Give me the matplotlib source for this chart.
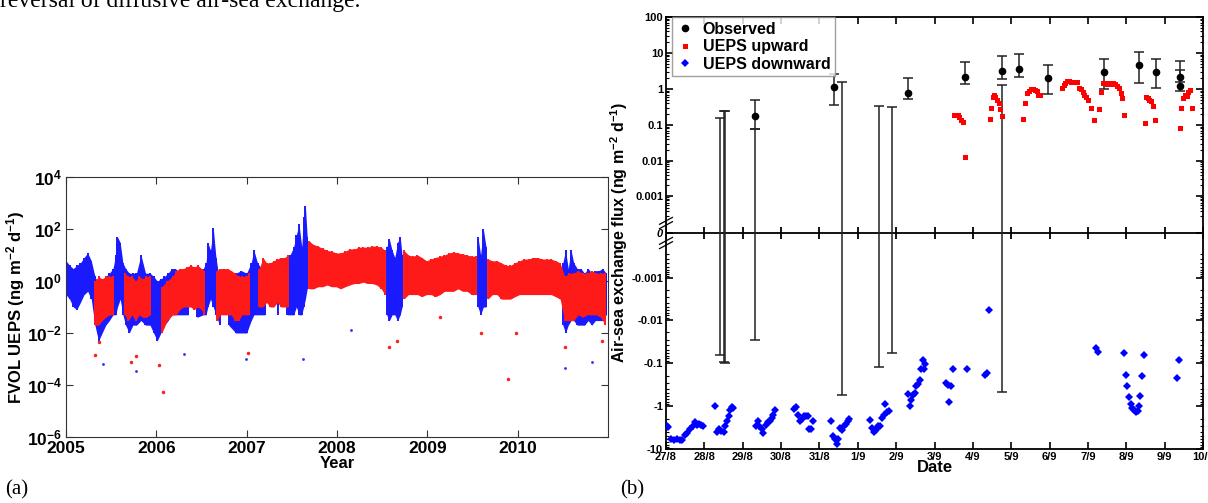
import matplotlib

matplotlib.use("Agg")
import matplotlib.pyplot as plt  # noqa: E402
import matplotlib.ticker as mticker  # noqa: E402
import numpy as np  # noqa: E402

plt.rcParams["font.family"] = ["Liberation Sans", "DejaVu Sans"]
plt.rcParams["font.weight"] = "bold"
plt.rcParams["mathtext.fontset"] = "custom"
plt.rcParams["mathtext.rm"] = "Liberation Sans:bold"
plt.rcParams["mathtext.bf"] = "Liberation Sans:bold"
plt.rcParams["mathtext.it"] = "Liberation Sans:bold:italic"
plt.rcParams["mathtext.default"] = "bf"

# ---------------- panel (a): 2005-2010 FVOL, envelope of dense point cloud
blue_t = [2005.00, 2005.04, 2005.08, 2005.12, 2005.16, 2005.20, 2005.24, 2005.28,
          2005.32, 2005.36, 2005.40, 2005.44, 2005.48, 2005.52, 2005.55, 2005.57,
          2005.60, 2005.63, 2005.66, 2005.70, 2005.74, 2005.78, 2005.83, 2005.88,
          2005.93, 2005.97, 2006.01, 2006.05, 2006.09, 2006.13, 2006.17, 2006.21,
          2006.27, 2006.35, 2006.45, 2006.52, 2006.55, 2006.57, 2006.60, 2006.63,
          2006.66, 2006.70, 2006.80, 2006.88, 2006.94, 2007.00, 2007.05, 2007.08,
          2007.12, 2007.20, 2007.35, 2007.45, 2007.48, 2007.52, 2007.55, 2007.58,
          2007.61, 2007.63, 2007.65, 2007.67, 2008.55, 2008.58, 2008.61, 2008.64,
          2008.67, 2008.70, 2008.72, 2009.56, 2009.59, 2009.62, 2009.65, 2010.50,
          2010.53, 2010.56, 2010.59, 2010.62, 2010.66, 2010.70, 2010.74, 2010.78,
          2010.82, 2010.86, 2010.90, 2010.94, 2010.98]
blue_lo = [0.3, 0.2, 0.1, 0.08, 0.15, 0.3, 0.4, 0.2,
           0.02, 0.005, 0.01, 0.02, 0.03, 0.05, 0.05, 0.1,
           0.2, 0.05, 0.02, 0.01, 0.02, 0.02, 0.03, 0.02,
           0.02, 0.01, 0.005, 0.01, 0.02, 0.03, 0.05, 0.05,
           0.05, 0.05, 0.04, 0.05, 0.05, 0.1, 0.2, 0.1,
           0.05, 0.02, 0.02, 0.01, 0.01, 0.01, 0.03, 0.05,
           0.05, 0.05, 0.05, 0.05, 0.05, 0.05, 0.1, 0.05,
           0.05, 0.1, 0.2, 0.5, 0.05, 0.03, 0.05, 0.05,
           0.03, 0.05, 0.1, 0.1, 0.05, 0.1, 0.1, 0.02,
           0.01, 0.02, 0.03, 0.03, 0.02, 0.02, 0.02, 0.03,
           0.02, 0.03, 0.03, 0.03, 0.05]
blue_hi = [6, 4, 3, 4, 5, 8, 12, 6,
           1.5, 0.8, 1, 1.5, 2, 3, 10, 50,
           30, 5, 3, 2, 2, 2, 10, 2,
           2, 1.5, 1, 1.2, 1.5, 2, 3, 3,
           2, 2, 2.5, 3, 5, 30, 15, 110,
           8, 1, 1.5, 2, 2.5, 2, 5, 15,
           5, 2, 2, 5, 10, 20, 60, 150,
           20, 300, 800, 50, 20, 40, 15, 8,
           30, 50, 10, 50, 10, 100, 20, 5,
           15, 3, 16, 5, 3, 3, 2, 3,
           2, 2.5, 2.5, 3, 2]

red_t = [2005.32, 2005.36, 2005.40, 2005.44, 2005.48, 2005.52, 2005.65, 2005.69,
         2005.73, 2005.77, 2005.81, 2005.85, 2005.89, 2005.93, 2006.06, 2006.12,
         2006.18, 2006.22, 2006.26, 2006.30, 2006.34, 2006.38, 2006.42, 2006.46,
         2006.50, 2006.53, 2006.67, 2006.71, 2006.75, 2006.79, 2006.83, 2006.87,
         2006.91, 2006.95, 2006.99, 2007.03, 2007.14, 2007.18, 2007.22, 2007.26,
         2007.30, 2007.34, 2007.38, 2007.42, 2007.46, 2007.69, 2007.74, 2007.79,
         2007.84, 2007.89, 2007.94, 2007.99, 2008.04, 2008.09, 2008.14, 2008.19,
         2008.24, 2008.29, 2008.34, 2008.39, 2008.44, 2008.49, 2008.53, 2008.74,
         2008.79, 2008.84, 2008.89, 2008.94, 2008.99, 2009.04, 2009.09, 2009.14,
         2009.19, 2009.24, 2009.29, 2009.34, 2009.39, 2009.44, 2009.49, 2009.54,
         2009.67, 2009.72, 2009.77, 2009.82, 2009.87, 2009.92, 2009.97, 2010.02,
         2010.07, 2010.12, 2010.17, 2010.22, 2010.27, 2010.32, 2010.37, 2010.42,
         2010.47, 2010.52, 2010.57, 2010.62, 2010.67, 2010.72, 2010.77, 2010.82,
         2010.87, 2010.92, 2010.97]
red_lo = [0.02, 0.02, 0.03, 0.04, 0.05, 0.05, 0.05, 0.03,
          0.05, 0.03, 0.05, 0.04, 0.04, 0.05, 0.01, 0.03,
          0.05, 0.05, 0.08, 0.1, 0.1, 0.1, 0.08, 0.1,
          0.08, 0.05, 0.03, 0.05, 0.05, 0.05, 0.05, 0.03,
          0.03, 0.05, 0.05, 0.05, 0.1, 0.1, 0.15, 0.1,
          0.1, 0.15, 0.1, 0.1, 0.1, 0.5, 0.5, 0.6,
          0.6, 0.7, 0.6, 0.6, 0.5, 0.6, 0.7, 0.8,
          0.8, 0.9, 0.8, 0.8, 0.7, 0.5, 0.3, 0.2,
          0.3, 0.3, 0.3, 0.25, 0.3, 0.3, 0.25, 0.3,
          0.4, 0.4, 0.4, 0.5, 0.4, 0.4, 0.3, 0.3,
          0.2, 0.3, 0.3, 0.2, 0.2, 0.2, 0.25, 0.3,
          0.3, 0.3, 0.3, 0.3, 0.3, 0.3, 0.3, 0.25,
          0.2, 0.03, 0.03, 0.03, 0.05, 0.04, 0.05, 0.05,
          0.05, 0.04, 0.02]
red_hi = [1, 1.5, 1.2, 1.5, 1.5, 1.5, 2, 1.5,
          1.5, 1, 1.5, 1.2, 1.5, 1.5, 0.6, 1,
          1.5, 2.5, 3, 3, 3.5, 4, 3.5, 4,
          3, 2.5, 2.5, 3, 3, 3, 2.5, 2,
          1.5, 1.5, 1.5, 2, 3, 8, 5, 5,
          6, 7, 8, 8, 10, 35, 25, 22,
          18, 15, 14, 12, 12, 14, 17, 17,
          20, 20, 20, 22, 22, 20, 15, 15,
          10, 9, 10, 8, 6, 7, 8, 9,
          10, 12, 13, 12, 11, 10, 9, 9,
          7, 6, 6, 5, 4, 4, 5, 6,
          7, 7, 8, 8, 7, 7, 7, 6,
          5, 1.5, 2, 2, 2.5, 2, 2, 2.5,
          2, 2, 2]

red_out_t = [2005.32, 2005.37, 2005.72, 2005.78, 2006.03, 2006.07, 2007.01, 2008.58,
             2008.66, 2009.14, 2009.59, 2009.89, 2009.98, 2010.52, 2010.93]
red_out_v = [1.4e-3, 4.6e-3, 8e-4, 1.3e-3, 5.7e-4, 5.5e-5, 1.7e-3, 3e-3,
             5e-3, 4e-2, 1e-2, 1.7e-4, 1e-2, 3e-3, 5e-3]
blue_out_t = [2005.41, 2005.78, 2006.31, 2006.99, 2007.62, 2008.15, 2010.52, 2010.82]
blue_out_v = [6.6e-4, 3.6e-4, 1.5e-3, 1e-3, 1e-3, 1.3e-2, 4.7e-4, 8e-4]

years = [2005, 2006, 2007, 2008, 2009, 2010]

# ---------------- panel (b): 27/8 - 10/9 (x = days since 27/8)
date_labels = ["27/8", "28/8", "29/8", "30/8", "31/8", "1/9", "2/9", "3/9",
               "4/9", "5/9", "6/9", "7/9", "8/9", "9/9", "10/9"]

up_day = [7.52, 7.57, 7.62, 7.65, 7.69, 7.74, 7.79,
          8.44, 8.47, 8.52, 8.55, 8.59, 8.62, 8.67, 8.70, 8.77,
          9.31, 9.36, 9.41, 9.46, 9.51, 9.56, 9.61, 9.66, 9.71, 9.76,
          10.33, 10.38, 10.41, 10.46, 10.51, 10.56, 10.61, 10.66, 10.71, 10.76,
          10.81, 10.86, 10.90, 10.95, 11.00, 11.07, 11.15,
          11.30, 11.35, 11.40, 11.45, 11.50, 11.55, 11.60, 11.65, 11.70, 11.75,
          11.80, 11.85, 11.88, 11.93,
          12.48, 12.52, 12.56, 12.60, 12.64, 12.69, 12.74,
          13.39, 13.42, 13.47, 13.52, 13.57, 13.62, 13.67, 13.72]
up_flux = [0.195, 0.19, 0.19, 0.17, 0.14, 0.12, 0.013,
           0.145, 0.3, 0.6, 0.7, 0.6, 0.5, 0.4, 0.28, 0.18,
           0.145, 0.4, 0.75, 0.9, 1.0, 1.0, 0.95, 0.9, 0.7, 0.7,
           1.1, 1.3, 1.5, 1.7, 1.7, 1.6, 1.6, 1.6, 1.6, 1.1,
           1.0, 0.8, 0.7, 0.6, 0.5, 0.3, 0.14,
           0.28, 0.8, 1.45, 1.45, 1.4, 1.45, 1.4, 1.45, 1.4, 1.25,
           1.05, 0.75, 0.55, 0.19,
           0.11, 0.6, 0.55, 0.5, 0.45, 0.33, 0.14,
           0.08, 0.3, 0.55, 0.7, 0.65, 0.8, 0.95, 0.3]

down_day = [0.02, 0.06, 0.12, 0.21, 0.29, 0.36, 0.43, 0.49, 0.55, 0.62, 0.71, 0.75,
            0.81, 0.86, 0.92, 0.97,
            1.29, 1.33, 1.38, 1.44, 1.51, 1.55, 1.59, 1.63, 1.67, 1.72, 1.74,
            2.34, 2.39, 2.43, 2.50, 2.54, 2.60, 2.66, 2.71, 2.76, 2.79, 2.84,
            3.35, 3.40, 3.45, 3.50, 3.55, 3.60, 3.65, 3.70, 3.74, 3.79, 3.84,
            4.31, 4.36, 4.41, 4.45, 4.49, 4.54, 4.59, 4.64, 4.69, 4.74, 4.78,
            5.33, 5.38, 5.43, 5.48, 5.53, 5.58, 5.63, 5.68, 5.71, 5.76, 5.81,
            6.32, 6.36, 6.40, 6.45, 6.50, 6.53, 6.58, 6.62, 6.65, 6.70, 6.72, 6.76,
            7.30, 7.35, 7.37, 7.42, 7.48, 7.84,
            8.31, 8.36, 8.41,
            11.22, 11.27,
            11.95, 11.99, 12.03, 12.07, 12.12, 12.15, 12.19, 12.25, 12.30, 12.33,
            12.37, 12.40, 12.45,
            13.33, 13.38]
down_flux = [-3.0, -3.1, -6.0, -6.1, -6.0, -6.3, -6.1, -4.8, -4.2, -3.5, -2.9, -2.4,
             -2.75, -2.6, -2.75, -3.0,
             -1.0, -4.0, -3.5, -3.8, -4.0, -3.0, -2.2, -1.7, -1.25, -1.04, -1.1,
             -2.9, -2.3, -3.0, -3.5, -4.2, -2.75, -2.4, -2.2, -1.9, -1.6, -1.25,
             -1.2, -1.05, -1.6, -2.2, -2.0, -1.75, -1.7, -1.75, -3.4, -3.4, -2.3,
             -2.2, -5.1, -6.0, -7.5, -5.8, -3.3, -3.6, -3.0, -2.6, -2.3, -2.0,
             -2.1, -3.3, -4.0, -3.6, -3.0, -2.9, -1.9, -1.6, -0.9, -1.4, -1.3,
             -0.52, -1.0, -0.72, -0.55, -0.5, -0.34, -0.32, -0.25, -0.14, -0.085, -0.14, -0.105,
             -0.3, -0.33, -0.82, -0.35, -0.14, -0.14,
             -0.19, -0.17, -0.006,
             -0.046, -0.058,
             -0.06, -0.19, -0.35, -0.63, -0.93, -1.1, -1.25, -1.4, -1.3, -1.0,
             -0.58, -0.2, -0.065,
             -0.23, -0.085]

obs_day = [1.41, 1.51, 1.53, 2.31, 2.31, 4.39, 4.59, 5.55, 5.88, 6.30, 7.80,
           8.77, 8.77, 9.20, 9.96, 11.43, 12.33, 12.78, 13.41, 13.41]
obs_val = [np.nan, np.nan, np.nan, 0.18, np.nan, 1.17, np.nan, np.nan, np.nan, 0.75, 2.2,
           3.1, np.nan, 3.6, 2.0, 3.0, 4.7, 3.0, 2.15, 1.2]
obs_lo = [-0.065, -0.095, -0.1, 0.077, -0.03, 0.36, -0.57, -0.125, -0.06, 0.53, 1.35,
          1.9, -0.48, 2.15, 0.74, 1.0, 1.5, 1.07, 1.55, 0.87]
obs_hi = [0.16, 0.24, 0.25, 0.48, 0.077, 2.65, 1.6, 0.34, 0.31, 2.0, 5.8,
          8.1, 1.3, 9.6, 4.7, 7.0, 10.8, 6.9, 6.0, 3.4]

pos_ticks = [100, 10, 1, 0.1, 0.01, 0.001]
neg_ticks = [-0.001, -0.01, -0.1, -1, -10]


def fwd(y):
    # broken log axis: log decades above zero, stretched log decades below zero
    y = np.asarray(y, dtype=float)
    s = np.log10(1 + np.abs(y) / 1e-4)
    return np.where(y >= 0, s, -1.2 * s)


def inv(f):
    f = np.asarray(f, dtype=float)
    k = np.where(f >= 0, 1.0, 1.2)
    return np.sign(f) * 1e-4 * (10 ** (np.abs(f) / k) - 1)


def draw_band(ax, t, lo, hi, color, z, gap=0.09):
    """Fill the envelope of the point cloud, broken where samples are far apart."""
    t = np.asarray(t)
    lo = np.asarray(lo)
    hi = np.asarray(hi)
    cuts = np.where(np.diff(t) > gap)[0] + 1
    for idx in np.split(np.arange(len(t)), cuts):
        ax.fill_between(t[idx], lo[idx], hi[idx], color=color, lw=0, zorder=z)
    ax.vlines(t, lo, hi, colors=color, lw=1.4, zorder=z)


fig = plt.figure(figsize=(12.08, 5.03), dpi=100)

# ---------------- (a)
ax1 = fig.add_axes([66 / 1208, 1 - 437 / 503, 542 / 1208, 260 / 503])
ax1.set_yscale("log")
draw_band(ax1, blue_t, blue_lo, blue_hi, "#1a1aff", 2)
draw_band(ax1, red_t, red_lo, red_hi, "#ff1a1a", 3)
ax1.plot(blue_out_t, blue_out_v, ".", color="#3030ff", ms=2, zorder=3)
ax1.plot(red_out_t, red_out_v, ".", color="#ff2020", ms=3, zorder=4)
ax1.set_xlim(2005, 2011)
ax1.set_ylim(1e-6, 1e4)
ax1.set_xticks(years)
ax1.set_xticklabels([str(y) for y in years])
ax1.yaxis.set_major_locator(mticker.FixedLocator([1e-6, 1e-4, 1e-2, 1, 1e2, 1e4]))
ax1.yaxis.set_minor_locator(mticker.NullLocator())
ax1.set_yticklabels(["$10^{-6}$", "$10^{-4}$", "$10^{-2}$", "$10^{0}$", "$10^{2}$", "$10^{4}$"])
ax1.tick_params(direction="in", top=True, right=True, length=5, labelsize=12.5, pad=3,
                color="#333333")
ax1.set_xlabel("Year", fontsize=12, fontweight="bold", labelpad=0)
ax1.set_ylabel("FVOL UEPS (ng m$^{-2}$ d$^{-1}$)", fontsize=12, fontweight="bold", labelpad=0)
for sp in ax1.spines.values():
    sp.set_color("#333333")

# ---------------- (b)
ax2 = fig.add_axes([666 / 1208, 1 - 449 / 503, 537 / 1208, 432 / 503])
ax2.set_yscale("function", functions=(fwd, inv))
ax2.set_ylim(-10, 100)
ax2.set_xlim(0, 14)
days = list(range(len(date_labels)))

ax2.axhline(0, color="black", lw=1.3, zorder=1)
ax2.plot(days, [0] * len(days), "|", color="black", ms=9, mew=1.3, zorder=1)

ax2.errorbar(obs_day, obs_lo, yerr=[[0] * len(obs_lo), np.subtract(obs_hi, obs_lo)],
             fmt="none", ecolor="#222222", elinewidth=1.1, capsize=3.5, capthick=1.1,
             zorder=2)
obs_h, = ax2.plot(obs_day, obs_val, "o", color="black", ms=4.5, zorder=4,
                  label="Observed")
up_h, = ax2.plot(up_day, up_flux, "s", color="#ff0000", ms=3.6, mew=0, zorder=3,
                 label="UEPS upward")
down_h, = ax2.plot(down_day, down_flux, "D", color="#0000ff", ms=4, mew=0, zorder=3,
                   label="UEPS downward")

ax2.set_xticks(days)
ax2.set_xticklabels(date_labels)
ax2.yaxis.set_major_locator(mticker.FixedLocator(pos_ticks + [0] + neg_ticks))
ax2.set_yticklabels([str(t) for t in pos_ticks] + ["0"] + [str(t) for t in neg_ticks])
ax2.get_yticklabels()[len(pos_ticks)].set_style("italic")
minors = []
for dec in [1e-4, 1e-3, 1e-2, 1e-1, 1, 10]:
    for m in range(2, 10):
        if m * dec < 100:
            minors.append(m * dec)
            if m * dec < 10:
                minors.append(-m * dec)
ax2.yaxis.set_minor_locator(mticker.FixedLocator(minors))
ax2.tick_params(which="major", direction="in", top=True, right=True, length=5,
                width=1.2, labelsize=8, pad=2)
ax2.tick_params(which="minor", direction="in", right=True, length=2.5, width=0.8)
ax2.set_xlabel("Date", fontsize=12, fontweight="bold", labelpad=-1)
ax2.set_ylabel("Air-sea exchange flux (ng m$^{-2}$ d$^{-1}$)", fontsize=11.5,
               fontweight="bold", labelpad=1)
for sp in ax2.spines.values():
    sp.set_linewidth(1.3)

# axis-break marks on the left spine
for yb in [(449 - 223) / 432, (449 - 243) / 432]:
    for dy in (-0.005, 0.005):
        ax2.plot([-0.012, 0.012], [yb + dy - 0.008, yb + dy + 0.008], color="black",
                 lw=0.9, transform=ax2.transAxes, clip_on=False, zorder=5)

leg = ax2.legend(handles=[obs_h, up_h, down_h], loc="upper left",
                 bbox_to_anchor=(0.012, 1.0), borderaxespad=0, fancybox=False,
                 edgecolor="#888888", handlelength=1.0,
                 handletextpad=0.6, borderpad=0.3, labelspacing=0.15,
                 prop={"weight": "bold", "size": 11.5})
leg.get_frame().set_linewidth(1.0)

# panel letters and the paper text cut off at the top
serif = ["Liberation Serif", "DejaVu Serif"]
fig.text(5 / 1208, 1 - 490 / 503, "(a)", family=serif, fontsize=15, fontweight="normal",
         va="center")
fig.text(620 / 1208, 1 - 490 / 503, "(b)", family=serif, fontsize=15, fontweight="normal",
         va="center")
fig.text(0 / 1208, 1 - 7 / 503, "reversal of diffusive air\u2010sea exchange.", family=serif,
         fontsize=17, fontweight="normal", va="baseline")

fig.savefig("out.png", dpi=100)
